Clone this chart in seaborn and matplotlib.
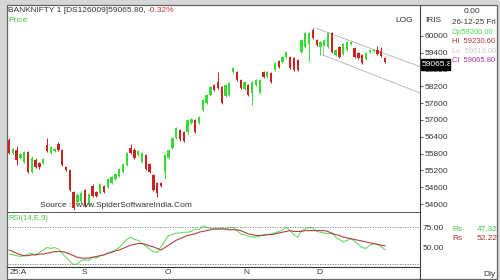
import numpy as np
import pandas as pd
import matplotlib
matplotlib.use("Agg")
import matplotlib.pyplot as plt
import seaborn as sns
from matplotlib.patches import Rectangle
from matplotlib.lines import Line2D

sns.set_style("white")
plt.rcParams['font.family'] = ['Liberation Sans', 'DejaVu Sans']

# ---------------- data ----------------
opens = [56280, 55820, 55930, 55640, 55500, 55850, 55140, 55570, 55450, 55460,
         56100, 55820, 55880, 56140, 55930, 55320, 55210, 54430, 54070, 54100,
         54500, 54000, 54640, 54430, 54390, 54640, 54610, 54750, 54890, 55000,
         55140, 55390, 56000, 55930, 55750, 55500, 55750, 55420, 55030, 54750,
         54750, 55140, 55640, 56000, 56350, 56640, 56570, 56550, 56900, 56990,
         56900, 57350, 57600, 57890, 58240, 58350, 58170, 57850, 57900, 58700,
         58700, 58420, 58100, 58240, 57960, 58250, 57960, 58700, 58530, 58670,
         58780, 59100, 59060, 59240, 59240, 59200, 59130, 59420, 59600, 59700,
         60200, 59850, 59600, 59670, 59600, 60100, 59310, 59600, 59350, 59500,
         59700, 59560, 59380, 59300, 59170, 59420, 59450, 59500, 59450, 59200]
highs = [56350, 56000, 56050, 55820, 55900, 55900, 55700, 55650, 55500, 55650,
         56350, 56080, 56000, 56220, 55950, 55360, 55250, 54450, 54400, 54450,
         54550, 54400, 54700, 54480, 54750, 54680, 54930, 55000, 55100, 55280,
         55460, 55860, 56150, 55980, 55930, 55860, 55800, 55460, 55070, 54800,
         54800, 55790, 55970, 56390, 56750, 56690, 56610, 57030, 57070, 57030,
         57140, 57740, 57930, 58210, 58280, 58700, 58210, 58280, 58340, 58890,
         58740, 58460, 58390, 58280, 58390, 58460, 58460, 58740, 58740, 58710,
         59070, 59140, 59280, 59460, 59280, 59240, 59170, 59890, 60140, 60140,
         60270, 59890, 59820, 59890, 60140, 60140, 59530, 59640, 59740, 59820,
         59820, 59600, 59420, 59340, 59420, 59530, 59530, 59650, 59600, 59230.6]
lows = [55780, 55780, 55400, 55600, 55450, 55100, 55100, 55280, 55250, 55420,
        55850, 55780, 55850, 55900, 55350, 55180, 54450, 53800, 54000, 54050,
        53900, 53950, 54250, 54250, 54350, 54380, 54580, 54720, 54860, 54970,
        55100, 55350, 55780, 55600, 55700, 55460, 55200, 55100, 54450, 54250,
        54600, 54900, 55600, 55960, 56310, 56260, 56210, 56510, 56860, 56530,
        56860, 57310, 57560, 57850, 58020, 58090, 57560, 57810, 57860, 58660,
        58380, 58100, 58060, 57850, 57530, 58210, 57920, 58490, 58490, 58310,
        58740, 58860, 59020, 59200, 58810, 58740, 58740, 59380, 59560, 59100,
        59880, 59630, 59300, 59630, 59560, 59380, 59270, 59200, 59310, 59460,
        59660, 59200, 59160, 58990, 59130, 59380, 59410, 59310, 59230, 59010]
closes = [55820, 55960, 55570, 55780, 55850, 55140, 55640, 55320, 55320, 55600,
          55880, 56030, 55960, 55930, 55390, 55210, 54500, 53860, 54320, 54400,
          53970, 54350, 54290, 54300, 54710, 54430, 54890, 54960, 55070, 55250,
          55430, 55820, 55820, 55640, 55890, 55820, 55250, 55140, 54500, 54390,
          54640, 55750, 55930, 56350, 56710, 56300, 56250, 56990, 57030, 56570,
          57100, 57700, 57890, 58170, 58060, 58130, 57600, 58240, 58300, 58850,
          58420, 58140, 58350, 57890, 58350, 58420, 58420, 58530, 58700, 58350,
          59030, 58900, 59240, 59420, 58850, 58780, 58780, 59850, 60100, 60100,
          59920, 59670, 59780, 59850, 60100, 59420, 59490, 59240, 59700, 59780,
          59780, 59240, 59200, 59030, 59380, 59490, 59490, 59350, 59270, 59065.8]
rsi = [42, 41, 40, 39, 40, 42, 43, 41, 44, 47, 50, 49, 50, 48, 43, 38, 33, 29, 30, 34,
       35, 34, 38, 37, 40, 41, 43, 45, 47, 50, 55, 60, 63, 60, 59, 55, 52, 48, 45, 44,
       51, 58, 65, 66, 68, 68, 69, 69, 70, 73, 72, 77, 75, 74, 73, 73, 74, 72, 75, 75,
       71, 67, 66, 64, 63, 63, 64, 66, 66, 67, 68, 70, 72, 75, 71, 66, 63, 71, 73, 75,
       74, 70, 69, 68, 67, 69, 63, 60, 57, 59, 61, 58, 54, 50, 49, 53, 55, 54, 51, 47.32]
rsi_signal = [47, 45, 43, 41, 40, 40, 41, 41, 42, 42, 43, 44, 45, 45, 45, 44, 42, 40, 38, 37,
              37, 37, 38, 39, 40, 41, 43, 44, 46, 47, 49, 51, 53, 54, 55, 55, 54, 52, 51, 49,
              47, 50, 53, 56, 59, 61, 63, 65, 66, 67, 69, 70, 71, 72, 73, 73, 73, 73, 72, 72,
              72, 71, 69, 67, 66, 65, 65, 65, 66, 66, 67, 68, 69, 70, 71, 70, 70, 70, 71, 71,
              71, 71, 71, 71, 70, 67, 66, 65, 63, 62, 61, 60, 59, 58, 57, 56, 55, 54, 53, 52.22]
price_ticks = [54000, 54600, 55200, 55800, 56400, 57000, 57600, 58200, 58800, 59400, 60000]
month_labels = ["25:A", "S", "O", "N", "D"]
month_pos = [2.4, 19.8, 41.8, 62.6, 81.6]
channel_upper = [(80.8, 60270), (108.2, 58895)]
channel_lower = [(82.6, 59312), (108.2, 57957)]
channel_link = [(82.6, 59850), (82.6, 59312)]

W, H = 500, 280
def px(x, y):
    return x / W, 1 - y / H

GREEN = "#33dd33"
RED = "#cc2222"
TXT = "#333333"

fig = plt.figure(figsize=(5, 2.8), dpi=100, facecolor="#d6d6d6")
fig.patches.append(Rectangle(px(7, 279), 490 / W, 274 / H, transform=fig.transFigure,
                             facecolor="white", edgecolor="#666666", lw=0.9, zorder=-5))

ax = fig.add_axes([7 / W, 1 - 212 / H, 413 / W, 207 / H])
ax2 = fig.add_axes([7 / W, 1 - 267 / H, 413 / W, 55 / H])
for a in (ax, ax2):
    a.set_facecolor("none")
    a.patch.set_visible(False)
    for s in ("top", "left", "right"):
        a.spines[s].set_visible(False)

# ---------------- candles ----------------
o = np.array(opens); h = np.array(highs); l = np.array(lows); c = np.array(closes)
idx = np.arange(len(o))
cols = np.where(c >= o, GREEN, RED)
ax.vlines(idx, l, h, colors=cols, lw=0.7, zorder=2)
body_low = np.minimum(o, c)
body_h = np.maximum(np.abs(c - o), 20)
ax.bar(idx, body_h, bottom=body_low, width=0.62, color=cols, lw=0, zorder=3)

for seg in (channel_upper, channel_lower, channel_link):
    xs, ys = zip(*seg)
    ax.plot(xs, ys, color="#b0b0b0", lw=0.6, zorder=1)

ax.set_xlim(-0.53, 108.2)
ax.set_ylim(53715, 61094)
ax.set_xticks([])
ax.yaxis.tick_right()
ax.set_yticks(price_ticks)
ax.set_yticklabels([str(t) for t in price_ticks])
ax.tick_params(axis="y", direction="out", length=2.5, width=0.6, pad=0.5,
               labelsize=6, colors="#444444", labelcolor=TXT)
ax.spines["bottom"].set_color("#555555")
ax.spines["bottom"].set_linewidth(0.7)

# ---------------- RSI ----------------
df = pd.DataFrame({"i": idx, "rsi": rsi, "sig": rsi_signal})
sns.lineplot(data=df, x="i", y="rsi", ax=ax2, color="#66dd66", lw=0.8)
sns.lineplot(data=df, x="i", y="sig", ax=ax2, color="#b04040", lw=0.8)
for lv in (75, 30):
    ax2.axhline(lv, color="#777777", lw=0.6, ls=(0, (1.5, 1.5)))
ax2.set_xlim(-0.53, 108.2)
ax2.set_ylim(26, 94)
ax2.set_xlabel(""); ax2.set_ylabel("")
ax2.yaxis.tick_right()
ax2.set_yticks([75, 50])
ax2.set_yticklabels(["75.00", "50.00"])
ax2.tick_params(axis="y", length=0, pad=2, labelsize=6, labelcolor=TXT)
ax2.set_xticks(month_pos)
ax2.set_xticklabels(month_labels)
ax2.tick_params(axis="x", length=0, pad=1.5, labelsize=6, labelcolor=TXT)
ax2.spines["bottom"].set_color("#333333")
ax2.spines["bottom"].set_linewidth(0.8)

# vertical separator
fig.lines.append(Line2D([420 / W, 420 / W], [1 - 5 / H, 1 - 279 / H], transform=fig.transFigure,
                        color="#444444", lw=0.8))

# ---------------- texts ----------------
t = fig.text(*px(8, 10), "BANKNIFTY 1 [DS126009]59065.80, ", fontsize=6, color=TXT, va="center")
fig.canvas.draw()
bb = t.get_window_extent()
fig.text(bb.x1 / W, 1 - 10 / H, "-0.32%", fontsize=6, color="#cc3333", va="center")
fig.text(*px(8, 20.5), "Price", fontsize=6, color="#44cc44", va="center")
fig.text(*px(40, 205.5), "Source :  www.SpiderSoftwareIndia.Com", fontsize=6, color=TXT, va="center")
fig.text(*px(8, 219), "RSI(14,E,9)", fontsize=5.5, color="#44cc44", va="center")
fig.text(*px(413, 20.5), "LOG", fontsize=6, color=TXT, va="center", ha="right")
fig.text(*px(425, 20.5), "IRIS", fontsize=6, color=TXT, va="center")
fig.text(*px(472, 11.5), "0.00", fontsize=6, color=TXT, va="center", ha="center")
fig.text(*px(452, 22.5), "26-12-25 Fri", fontsize=5.8, color=TXT, va="center")
fig.text(*px(452, 32), "Op59200.00", fontsize=5.5, color="#44dd44", va="center")
fig.text(*px(452, 41.5), "Hi  59230.60", fontsize=5.5, color="#aa3333", va="center")
fig.text(*px(452, 51.5), "Lo  59010.00", fontsize=5.5, color="#c8c8c8", va="center")
fig.text(*px(452, 61), "Cl  59065.80", fontsize=5.5, color="#aa33aa", va="center")

# last price box
fig.patches.append(Rectangle(px(420.5, 69.5), 29.5 / W, 11 / H, transform=fig.transFigure,
                             facecolor="black", edgecolor="black", zorder=5))
lt = fig.text(*px(421.5, 64), "59065.8", fontsize=6, color="white", va="center", zorder=6)
lt.set_clip_path(Rectangle(px(420.5, 69.5), 29.5 / W, 11 / H, transform=fig.transFigure))

fig.text(*px(452, 229.5), "Rs", fontsize=6, color="#44cc44", va="center")
fig.text(*px(498, 229.5), "47.32", fontsize=6, color="#44cc44", va="center", ha="right")
fig.text(*px(452, 238.5), "Rs", fontsize=6, color="#aa3333", va="center")
fig.text(*px(498, 238.5), "52.22", fontsize=6, color="#aa3333", va="center", ha="right")
fig.text(*px(496, 274), "Dly", fontsize=6, color=TXT, va="center", ha="right")

fig.savefig("out.png", dpi=100, facecolor=fig.get_facecolor())
